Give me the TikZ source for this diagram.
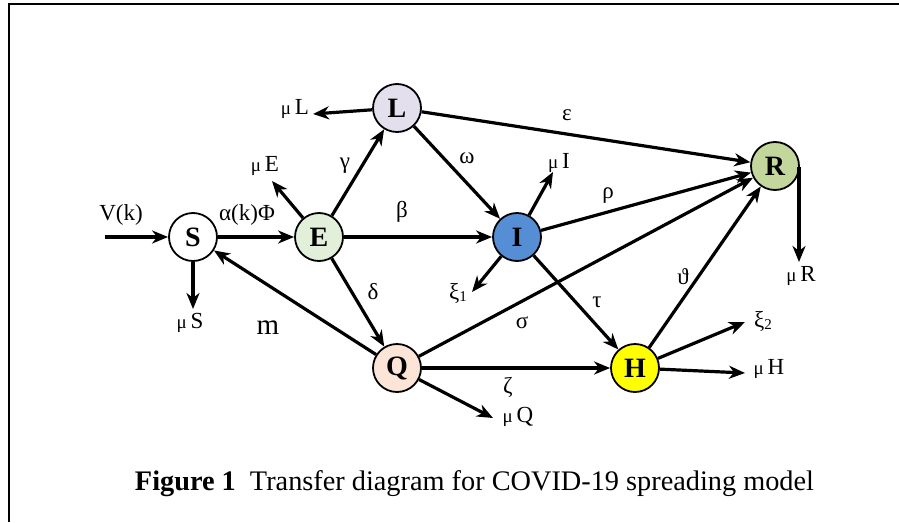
\documentclass[tikz,border=0pt]{standalone}
\usepackage{fontspec}
\setmainfont{Liberation Serif}
\usetikzlibrary{arrows.meta}
\definecolor{cE}{HTML}{E2EFD9}
\definecolor{cL}{HTML}{E4DFEC}
\definecolor{cI}{HTML}{558ED5}
\definecolor{cR}{HTML}{C3D69B}
\definecolor{cQ}{HTML}{FCE4D6}
\definecolor{cH}{HTML}{FFFF00}
\newcommand\mmu{{\fontsize{19}{19}\selectfont μ}\,}
\begin{document}
\begin{tikzpicture}[x=1pt,y=-1pt,
  st/.style={circle,draw,line width=1.8pt,minimum size=48pt,inner sep=0pt,font=\fontsize{28}{28}\selectfont\bfseries},
  arr/.style={line width=3.2pt,-{Stealth[length=16pt,width=13pt,inset=5pt]}},
  lbl/.style={font=\fontsize{23}{23}\selectfont, inner sep=0pt},
  frame/.style={line width=2.2pt}
]
\useasboundingbox (0,0) rectangle (899,522);
\draw[frame] (9,522) -- (9,4) -- (899,4);

\node[st] (S) at (193,237) {S};
\node[st,fill=cE] (E) at (319,237) {E};
\node[st,fill=cL] (L) at (397,108) {L};
\node[st,fill=cI] (I) at (517,237) {I};
\node[st,fill=cR] (R) at (775,166) {R};
\node[st,fill=cQ] (Q) at (397,368) {Q};
\node[st,fill=cH] (H) at (635,368) {H};

\coordinate (vin) at (105,237);
\coordinate (muS) at (193,309);
\coordinate (muE) at (272,181);
\coordinate (muL) at (313,114);
\coordinate (muI) at (553,172);
\coordinate (xi1) at (472,292);
\coordinate (muQ) at (493,418);
\coordinate (xi2) at (745,322);
\coordinate (muH) at (745,373);
\coordinate (Rst) at (799,167);
\coordinate (muR) at (799,262);

\draw[arr] (vin) -- (S);
\draw[arr] (S) -- (E);
\draw[arr] (S) -- (muS);
\draw[arr] (Q) -- (S);
\draw[arr] (E) -- (muE);
\draw[arr] (E) -- (L);
\draw[arr] (E) -- (I);
\draw[arr] (E) -- (Q);
\draw[arr] (L) -- (muL);
\draw[arr] (L) -- (R);
\draw[arr] (L) -- (I);
\draw[arr] (I) -- (muI);
\draw[arr] (I) -- (xi1);
\draw[arr] (I) -- (R);
\draw[arr] (I) -- (H);
\draw[arr] (Q) -- (R);
\draw[arr] (Q) -- (H);
\draw[arr] (Q) -- (muQ);
\draw[arr] (H) -- (R);
\draw[arr] (H) -- (xi2);
\draw[arr] (H) -- (muH);
\draw[arr] (Rst) -- (muR);

\node[lbl] (lV) at (121,215) {V(k)};
\node[lbl] (lalpha) at (247,215) {α(k)Φ};
\node[lbl] (lmuS) at (190,323) {\mmu S};
\node[lbl,font=\fontsize{29}{29}\selectfont] (lm) at (268,328) {m};
\node[lbl] (lmuE) at (265,166) {\mmu E};
\node[lbl] (lgamma) at (345,166) {γ};
\node[lbl] (lbeta) at (402,212) {β};
\node[lbl] (ldelta) at (373,292) {δ};
\node[lbl] (lmuL) at (295,109) {\mmu L};
\node[lbl] (leps) at (567,115) {ε};
\node[lbl] (lomega) at (467,158) {ω};
\node[lbl] (lmuI) at (559,163) {\mmu I};
\node[lbl] (lxi1) at (458,293) {ξ{\fontsize{15}{15}\selectfont\raisebox{-2pt}{1}}};
\node[lbl] (lrho) at (608,196) {ρ};
\node[lbl] (ltau) at (597,302) {τ};
\node[lbl] (lsigma) at (522,323) {σ};
\node[lbl] (lzeta) at (508,387) {ζ};
\node[lbl] (lmuQ) at (518,417) {\mmu Q};
\node[lbl] (ltheta) at (683,277) {ϑ};
\node[lbl] (lxi2) at (763,321) {ξ{\fontsize{15}{15}\selectfont\raisebox{-2pt}{2}}};
\node[lbl] (lmuH) at (769,369) {\mmu H};
\node[lbl] (lmuR) at (801,276) {\mmu R};

\node[anchor=base,inner sep=0pt,font=\fontsize{28.3}{28.3}\selectfont] (cap) at (474.5,490)
  {\textbf{Figure 1}\ \ Transfer diagram for COVID-19 spreading model};
\end{tikzpicture}
\end{document}
